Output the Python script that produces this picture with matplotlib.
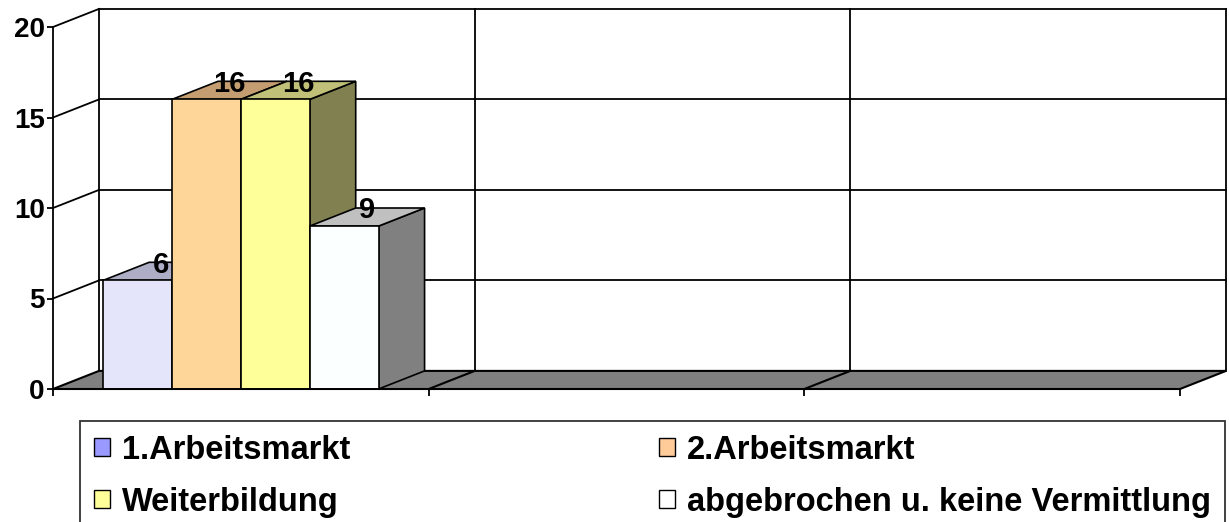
import matplotlib
matplotlib.use("Agg")
import numpy as np
import matplotlib.pyplot as plt
from matplotlib.patches import Polygon, Rectangle, Patch

# data
series_names = ['1.Arbeitsmarkt', '2.Arbeitsmarkt', 'Weiterbildung',
                'abgebrochen u. keine Vermittlung']
arbeitsmarkt_1 = [6, np.nan, np.nan]
arbeitsmarkt_2 = [16, np.nan, np.nan]
weiterbildung = [16, np.nan, np.nan]
abgebrochen = [9, np.nan, np.nan]
y_ticks = [0, 5, 10, 15, 20]

# style
legend_colors = ['#9999FF', '#FFCC99', '#FFFF99', '#FFFFFF']
front_colors = ['#E4E4FA', '#FFD699', '#FFFF99', '#FBFFFF']
top_colors = ['#ADADC6', '#C49E70', '#C0C078', '#C0C0C0']
side_colors = ['#70708C', '#A07850', '#808050', '#808080']
DEPTH_X = 0.1225   # depth offset in category units
DEPTH_Y = 1.0      # depth offset in value units
BAR_W = 0.1833
FONT = 'Liberation Sans'

series = [arbeitsmarkt_1, arbeitsmarkt_2, weiterbildung, abgebrochen]
n_cat = len(arbeitsmarkt_1)
y_max = y_ticks[-1]

W, H = 1229, 522
fig = plt.figure(figsize=(W / 100, H / 100), dpi=100)
ax = fig.add_axes([53 / W, (H - 389) / H, (1180 - 53) / W, (389 - 27) / H])
ax.set_xlim(0, n_cat)
ax.set_ylim(0, y_max)
ax.patch.set_visible(False)

lk = dict(color='black', lw=1.3, clip_on=False, zorder=1)
# back wall grid and side wall diagonals
for v in y_ticks[1:]:
    ax.plot([DEPTH_X, n_cat + DEPTH_X], [v + DEPTH_Y, v + DEPTH_Y], **lk)
    ax.plot([0, DEPTH_X], [v, v + DEPTH_Y], **lk)
for k in range(n_cat + 1):
    ax.plot([k + DEPTH_X, k + DEPTH_X], [DEPTH_Y, y_max + DEPTH_Y], **lk)

# floor
floor = Polygon([(0, 0), (n_cat, 0), (n_cat + DEPTH_X, DEPTH_Y), (DEPTH_X, DEPTH_Y)],
                closed=True, facecolor='#808080', edgecolor='black', lw=1.5,
                clip_on=False, zorder=2)
ax.add_patch(floor)
for k in range(1, n_cat):
    ax.plot([k, k + DEPTH_X], [0, DEPTH_Y], color='black', lw=1.5, clip_on=False, zorder=2)

# bars
n_ser = len(series)
gap = (1 - n_ser * BAR_W) / 2
z = 3
for c in range(n_cat):
    for i, vals in enumerate(series):
        h = vals[c]
        if np.isnan(h):
            continue
        x0 = c + gap + i * BAR_W
        x1 = x0 + BAR_W
        pk = dict(edgecolor='black', lw=1.2, clip_on=False, joinstyle='miter')
        ax.add_patch(Polygon([(x1, 0), (x1 + DEPTH_X, DEPTH_Y), (x1 + DEPTH_X, h + DEPTH_Y), (x1, h)],
                             closed=True, facecolor=side_colors[i], zorder=z, **pk))
        ax.add_patch(Polygon([(x0, h), (x1, h), (x1 + DEPTH_X, h + DEPTH_Y), (x0 + DEPTH_X, h + DEPTH_Y)],
                             closed=True, facecolor=top_colors[i], zorder=z + 0.1, **pk))
        ax.add_patch(Rectangle((x0, 0), BAR_W, h, facecolor=front_colors[i], zorder=z + 0.2, **pk))
        z += 1
for c in range(n_cat):
    for i, vals in enumerate(series):
        h = vals[c]
        if np.isnan(h):
            continue
        xc = c + gap + (i + 0.5) * BAR_W + DEPTH_X / 2
        ax.text(xc, h + 0.43, '%d' % h, ha='center', va='baseline', fontsize=21,
                fontweight='bold', family=FONT, zorder=50, clip_on=False)

# axes
for s in ['top', 'right']:
    ax.spines[s].set_visible(False)
for s in ['left', 'bottom']:
    ax.spines[s].set_linewidth(1.3)
    ax.spines[s].set_zorder(40)
ax.set_xticks(range(n_cat + 1))
ax.set_xticklabels([])
ax.set_yticks(y_ticks)
ax.set_yticklabels([str(v) for v in y_ticks])
ax.tick_params(axis='x', direction='out', length=5, width=1.3)
ax.tick_params(axis='y', direction='out', length=4, width=1.3, pad=2, labelsize=20)
for lab in ax.get_yticklabels():
    lab.set_fontweight('bold')
    lab.set_family(FONT)

# legend (row-wise order: matplotlib fills columns first)
handles = [Patch(facecolor=col, edgecolor='black', lw=1) for col in legend_colors]
order = [0, 2, 1, 3]
leg = fig.legend([handles[j] for j in order], [series_names[j] for j in order],
                 loc='upper left', ncol=2, mode='expand',
                 bbox_to_anchor=(80 / W, (H - 421) / H, (1225 - 80) / W, 0),
                 frameon=True, fancybox=False, borderaxespad=0, borderpad=0.42,
                 labelspacing=0.64, handlelength=0.5, handleheight=0.5,
                 handletextpad=0.38, prop={'family': FONT, 'weight': 'bold', 'size': 23.5})
leg.get_frame().set_edgecolor('black')
leg.get_frame().set_linewidth(1.3)

fig.savefig('out.png', dpi=100)
